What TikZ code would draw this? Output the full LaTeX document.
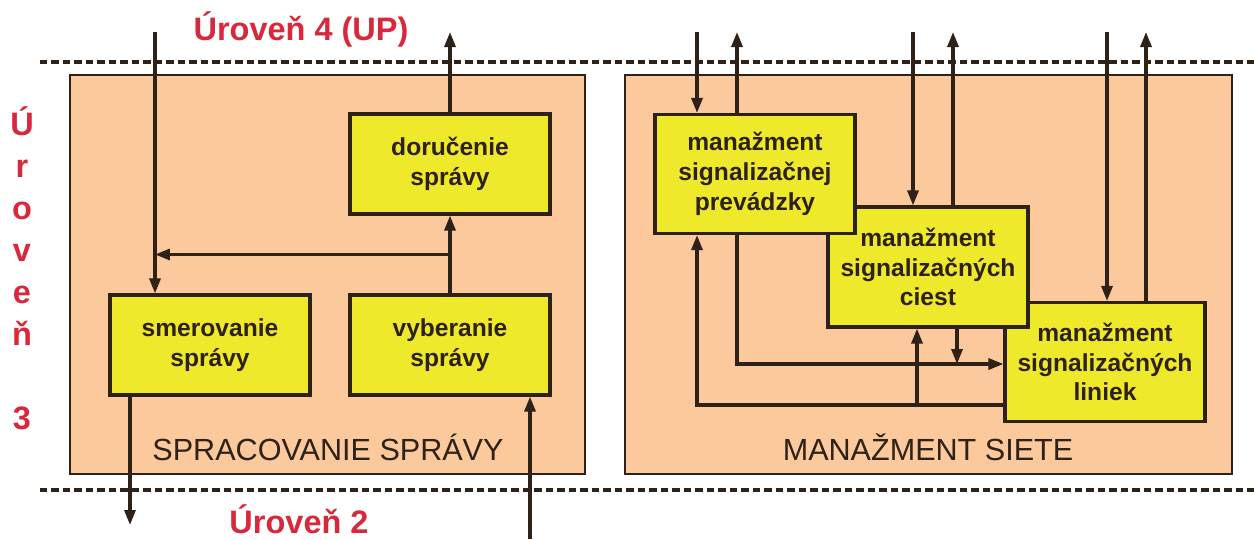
\documentclass[tikz,border=0pt]{standalone}
\usepackage{fontspec}
\setmainfont{Liberation Sans}
\usetikzlibrary{arrows.meta,calc}
\definecolor{peach}{HTML}{FBC99B}
\definecolor{lemon}{HTML}{EFE92B}
\definecolor{level}{HTML}{D8283C}
\definecolor{ink}{HTML}{2D2118}

\begin{document}
\begin{tikzpicture}[x=0.02cm, y=-0.02cm, >={Triangle[length=0.3cm,width=0.22cm]},
    panel/.style={draw=ink, line width=1.1pt, fill=peach},
    box/.style={draw=ink, line width=1.8pt, fill=lemon, minimum width=4cm, align=center,
      inner sep=0pt, text=ink, font=\bfseries\fontsize{14}{17}\selectfont},
    sig/.style={draw=ink, line width=1.8pt},
    levelline/.style={draw=ink, line width=0.09cm, dash pattern=on 0.15cm off 0.08cm},
    leveltext/.style={text=level, inner sep=0.5pt, font=\bfseries\fontsize{18.5}{22}\selectfont},
    paneltext/.style={text=ink, font=\fontsize{17.4}{20}\selectfont}]
        \useasboundingbox (0,0) rectangle (1254,539);
        % level boundaries
        \draw[levelline] (40,62) -- (1254,62);
        \draw[levelline] (40,490) -- (1254,490);
        \node[leveltext, anchor=base] (up) at (301,40) {Úroveň 4 (UP)};
        \node[leveltext, anchor=base] (down) at (299,533) {Úroveň 2};
        \foreach \ch [count=\i] in {Ú,r,o,v,e,ň}
          \node[leveltext, anchor=base] (lv\i) at (22,93+42*\i) {\ch};
        \node[leveltext, anchor=base] (lvnum) at (22,429) {3};

        % the two blocks of level 3
        \draw[panel] (70,75) rectangle (585,474);
        \draw[panel] (625,75) rectangle (1232,474);
        \node[paneltext, anchor=base] (spr) at (328,460) {SPRACOVANIE SPRÁVY};
        \node[paneltext, anchor=base] (mgmt) at (928,460) {MANAŽMENT SIETE};

        % message handling
        \node[box, minimum height=2cm] (doruc) at (450,164) {doručenie\\správy};
        \node[box, minimum height=2cm] (smer) at (210,345) {smerovanie\\správy};
        \node[box, minimum height=2cm] (vyber) at (450,345) {vyberanie\\správy};

        \coordinate (inL) at (155,32);
        \coordinate (outL) at (450,32);
        \coordinate (outD) at (130,525);
        \coordinate (inU) at (530,539);
        \draw[sig,->] (inL) -- (inL |- smer.north);
        \draw[sig,->] (doruc.north) -- (outL);
        \draw[sig,->] (vyber.north) -- (doruc.south);
        \coordinate (fork) at ($(vyber.north)!0.5!(doruc.south)$);
        \draw[sig,->] (fork) -- (fork -| inL);
        \draw[sig,->] (outD |- smer.south) -- (outD);
        \draw[sig,->] (inU) -- (inU |- vyber.south);

        % network management (drawn back to front)
        \node[box, minimum height=2.38cm] (liniek) at (1105,362) {manažment\\signalizačných\\liniek};
        \node[box, minimum height=2.4cm] (ciest) at (928,267) {manažment\\signalizačných\\ciest};
        \node[box, minimum height=2.38cm] (prev) at (755,174) {manažment\\signalizačnej\\prevádzky};

        \coordinate (inA) at (697,32);
        \coordinate (outA) at (737,32);
        \coordinate (inB) at (913,32);
        \coordinate (outB) at (953,32);
        \coordinate (inC) at (1107,32);
        \coordinate (outC) at (1146,32);
        \draw[sig,->] (inA) -- (inA |- prev.north);
        \draw[sig,->] (outA |- prev.north) -- (outA);
        \draw[sig,->] (inB) -- (inB |- ciest.north);
        \draw[sig,->] (outB |- ciest.north) -- (outB);
        \draw[sig,->] (inC) -- (inC |- liniek.north);
        \draw[sig,->] (outC |- liniek.north) -- (outC);

        \coordinate (back) at (697,405);
        \coordinate (backup) at (917,405);
        \coordinate (ahead) at (737,364);
        \coordinate (aheaddn) at (957,364);
        \draw[sig,->] (back -| liniek.west) -- (back) -- (back |- prev.south);
        \draw[sig,->] (backup) -- (backup |- ciest.south);
        \draw[sig,->] (ahead |- prev.south) -- (ahead) -- (ahead -| liniek.west);
        \draw[sig,->] (aheaddn |- ciest.south) -- (aheaddn);
      \end{tikzpicture}
\end{document}
